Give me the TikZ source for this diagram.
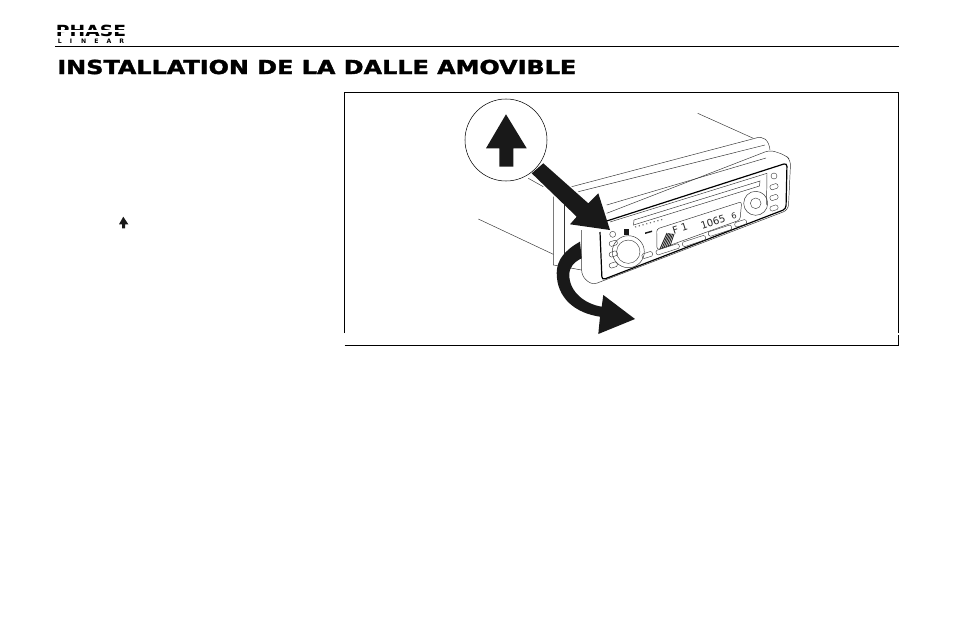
\documentclass[tikz,border=0pt]{standalone}
\usepackage{fontspec}
\setmainfont{DejaVu Sans}
\newfontfamily\headfont[FakeBold=1.6]{DejaVu Sans Bold}
\tikzset{
  thinline/.style={draw=black!80,line width=0.35pt},
  rule/.style={draw=black,line width=0.8pt},
  solidblack/.style={fill=black!90,draw=none},
  keycap/.style={draw=black!80,line width=0.3pt,rounded corners=1pt,rotate=18,inner sep=0pt,minimum height=3.6pt},
  lcdtext/.style={rotate=18,inner sep=0pt,text=black!85,font=\fontsize{7.5pt}{8pt}\selectfont}
}
\begin{document}
\begin{tikzpicture}[x=0.75pt,y=-0.75pt]
\useasboundingbox (0,0) rectangle (954,618);
% page head
\node[inner sep=0pt,anchor=center,xscale=1.22,font=\bfseries\fontsize{11.5pt}{12pt}\selectfont] (logotop) at (91,31) {PHASE};
\draw[white,line width=0.9pt] (56,31) -- (126,31);
\node[inner sep=0pt,anchor=center,font=\bfseries\fontsize{4.6pt}{5pt}\selectfont] (logobottom) at (91,41) {L\hspace{6pt}I\hspace{6.8pt}N\hspace{6pt}E\hspace{6pt}A\hspace{6pt}R};
\draw[rule] (55,46.5) -- (899,46.5);
\node[inner sep=0pt,anchor=west,xscale=1.236,font=\headfont\fontsize{14.5pt}{16pt}\selectfont] (title) at (57,67) {INSTALLATION DE LA DALLE AMOVIBLE};
% little arrow in the text column
\fill[solidblack] (123.3,216.7) -- (128.3,224.3) -- (125,224.3) -- (125,228.3) -- (122,228.3) -- (122,224.3) -- (119,224.3) -- cycle;
% frame
\draw[rule] (344.5,333) -- (344.5,92.5) -- (898.5,92.5) -- (898.5,333);
\draw[rule] (344.5,345.5) -- (898.5,345.5) -- (898.5,334.5);
% back of the unit
\draw[thinline] (697.7,113.3) -- (753.3,138.3);
\draw[thinline] (478.3,219) -- (553.3,254.3);
\draw[thinline] (528.3,178.3) -- (543.3,186.7);
\draw[thinline] (571.7,186.7) -- (755,138.3) .. controls (763,135) and (769,140) .. (770,150);
\draw[thinline] (578.3,191.7) -- (765,145);
\draw[thinline] (553.3,196.7) -- (553.3,265) -- (581.7,270);
\draw[thinline] (564,203.3) -- (564,267);
% face plate
\draw[thinline,rounded corners=4pt] (581.7,230) -- (581.7,276) -- (592,285) -- (788.3,210) -- (790.7,160) -- (785,155) -- (770,150) -- (606.7,213.3);
\draw[draw=black,line width=0.9pt,rounded corners=2.5pt] (606.7,221) -- (787,163) -- (786,209) -- (602,280) -- (600,232);
\draw[thinline] (606.7,205) -- (766,158);
\draw[thinline] (610,222) -- (767,173.3) -- (766.5,205);
\draw[thinline] (634,220) -- (760,181) -- (759.5,186) -- (633.5,225) -- cycle;
\draw[black!55,line width=0.9pt,dotted] (635,227) -- (664,219);
% display
\draw[thinline,rounded corners=2pt] (656.7,229) -- (741.7,201.7) -- (740,220) -- (657,250) -- cycle;
\foreach \k in {0,1,...,5}
  \draw[black!85,line width=0.7pt] (660+\k*2,249-\k*0.6) -- (667+\k*1.4,233+\k*0.2);
\node[lcdtext] (band) at (680,228.5) {F 1};
\node[lcdtext] (freq) at (713,222) {1065};
\node[lcdtext,font=\fontsize{6pt}{7pt}\selectfont] (preset) at (734,215.5) {6};
% controls
\node[draw=black!80,line width=0.35pt,circle,minimum size=24pt,inner sep=0pt] (volume) at (628.3,251.7) {};
\node[draw=black!80,line width=0.3pt,circle,minimum size=17.5pt,inner sep=0pt] (volumecap) at (628.3,251.7) {};
\node[draw=black!80,line width=0.35pt,circle,minimum size=18pt,inner sep=0pt] (pad) at (755.7,203.3) {};
\node[draw=black!80,line width=0.3pt,circle,minimum size=8pt,inner sep=0pt] (padcap) at (755.7,203.3) {};
\node[draw=black!80,line width=0.3pt,circle,minimum size=4.5pt,inner sep=0pt] (power) at (612.7,234.3) {};
\node[draw=black!80,line width=0.3pt,circle,minimum size=4.5pt,inner sep=0pt] (eject) at (774,176) {};
\foreach \px/\py/\keylen [count=\n] in {647.3/255/8,667.7/249.3/18,694/241/18,720/230.7/18,740.7/223.3/9,613.3/243.3/6,613.3/254/6,613.3/265/6,774/186.7/6,774/197.5/6,774/208/6}
  \node[keycap,minimum width=\keylen pt] (key\n) at (\px,\py) {};
\fill[solidblack] (624,229) rectangle (629,235);
\fill[solidblack] (645,232.5) -- (652,230.5) -- (652,232) -- (645,234) -- cycle;
% arrows
\node[draw=black,line width=0.4pt,fill=white,circle,minimum size=61.5pt,inner sep=0pt] (badge) at (506,140) {};
\fill[solidblack] (506,114.3) -- (526.7,148.3) -- (513.3,148.3) -- (513.3,166.7) -- (499.3,166.7) -- (499.3,148.3) -- (486,148.3) -- cycle;
\fill[solidblack] (531.7,173.3) -- (543.3,163.3) -- (588.3,203.3) -- (598.3,193.3) -- (610,230) -- (570,224.3) -- (576.7,216.7) -- cycle;
\fill[solidblack] (580,241.7) .. controls (565,250) and (556.7,260) .. (556.7,273)
  .. controls (556.7,298) and (575,313) .. (600,316.7) -- (598.3,334) -- (635,319) -- (603.3,295) -- (601.7,306.7)
  .. controls (585,304) and (569.3,292) .. (569.3,275) .. controls (569.3,267) and (574,262) .. (581.7,258.3) -- cycle;
\end{tikzpicture}
\end{document}
